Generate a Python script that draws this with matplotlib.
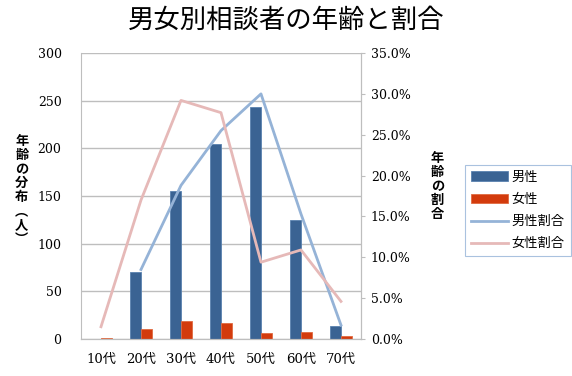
import numpy as np
import matplotlib.pyplot as plt
from matplotlib.ticker import PercentFormatter

plt.rcParams['font.family'] = ['DejaVu Serif', 'Noto Sans CJK JP']

ages = ['10代', '20代', '30代', '40代', '50代', '60代', '70代']
male = [0, 70, 155, 205, 243, 125, 14]
female = [1, 11, 19, 17, 6, 7, 3]
male_ratio = [np.nan, 8.5, 18.8, 25.5, 30.0, 15.3, 1.7]
female_ratio = [1.5, 17.0, 29.2, 27.7, 9.4, 10.9, 4.6]

fig = plt.figure(figsize=(5.72, 3.76), dpi=100)
ax = fig.add_axes([0.1416, 0.0984, 0.4895, 0.7606])
ax2 = ax.twinx()

x = np.arange(len(ages))
w = 0.275
ax.bar(x - w / 2, male, w, color='#3A6393', edgecolor='#5A82B0', linewidth=0.6, label='男性', zorder=2)
ax.bar(x + w / 2, female, w, color='#D33B0D', edgecolor='#E06A40', linewidth=0.6, label='女性', zorder=2)
ax2.plot(x, male_ratio, color='#95B3D7', lw=2, label='男性割合')
ax2.plot(x, female_ratio, color='#E6B9B8', lw=2, label='女性割合')

ax.set_xlim(-0.5, len(ages) - 0.5)
ax.set_ylim(0, 300)
ax.set_yticks(range(0, 301, 50))
ax2.set_ylim(0, 35)
ax2.set_yticks(np.arange(0, 36, 5))
ax2.yaxis.set_major_formatter(PercentFormatter(decimals=1))
ax.set_xticks(x)
ax.set_xticklabels(ages)
ax.yaxis.grid(True, color='#BEBEBE', lw=1)
ax.set_axisbelow(True)

for a in (ax, ax2):
    for s in a.spines.values():
        s.set_color('#BEBEBE')
    a.spines['top'].set_visible(False)
ax.tick_params(axis='y', length=0, labelsize=9, pad=14)
ax.tick_params(axis='x', length=0, labelsize=9.5, pad=10)
ax2.tick_params(axis='y', length=3, color='#BEBEBE', labelsize=9, pad=4)
ax2.spines['left'].set_visible(False)

fig.text(0.5, 0.945, '男女別相談者の年齢と割合', ha='center', va='center', fontsize=19,
         family=['Noto Sans CJK JP'])
fig.text(0.038, 0.495, '\n'.join('年齢の分布︵人︶'), ha='center', va='center', fontsize=9.5,
         family=['Noto Sans CJK JP'], linespacing=1.0, fontweight='bold')
fig.text(0.765, 0.505, '\n'.join('年齢の割合'), ha='center', va='center', fontsize=9.5,
         family=['Noto Sans CJK JP'], linespacing=1.0, fontweight='bold')

h1, l1 = ax.get_legend_handles_labels()
h2, l2 = ax2.get_legend_handles_labels()
leg = fig.legend(h1 + h2, l1 + l2, loc='center', bbox_to_anchor=(0.905, 0.44),
                 frameon=True, fancybox=False, handlelength=2.8, labelspacing=0.7,
                 borderpad=0.45, handletextpad=0.3, prop={'family': ['Noto Sans CJK JP'], 'size': 9.5})
leg.get_frame().set_edgecolor('#95B3D7')
leg.get_frame().set_linewidth(0.8)

fig.savefig('out.png', dpi=100)
